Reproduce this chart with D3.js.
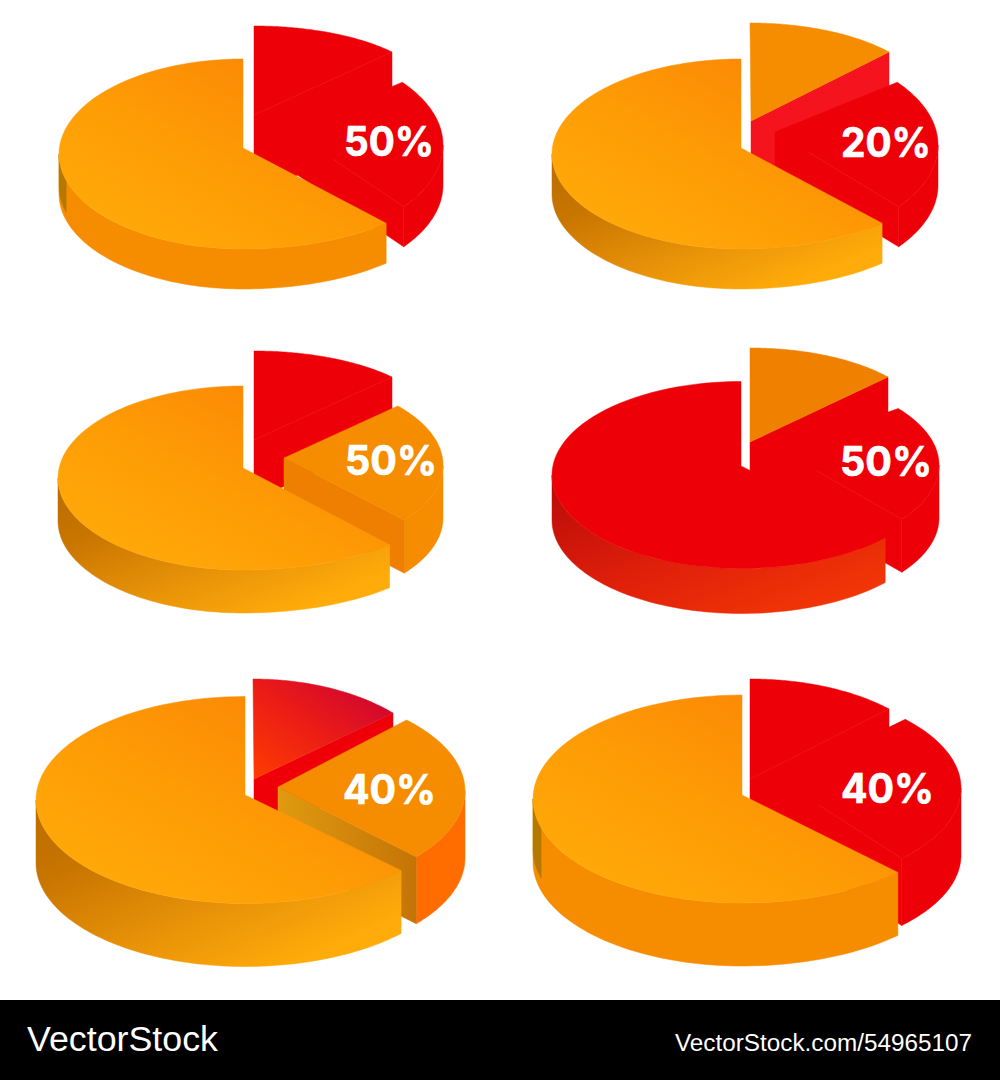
<!DOCTYPE html>
<html><head><meta charset="utf-8">
<script src="https://cdn.jsdelivr.net/npm/d3@7/dist/d3.min.js"></script>
<style>html,body{margin:0;padding:0;background:#fff}svg{display:block}</style>
</head><body><div id="c"></div>
<script>
// ---- data (shares of each pie, percent) ----
const pieLabels = ["50%","20%","50%","50%","40%","40%"];
const backShare = [14.2,14.2,13.6,14.2,12.8,13.1];
const sideShare = [21.4,21.4,21.9,21.1,23.3,24.2];
const mainShare = [64.4,64.4,64.5,64.7,63.9,62.7];
const footerLeft = "VectorStock";
const footerRight = "VectorStock.com/54965107";

// ---- layout, kept apart from the values ----
const RED="#ee0008", ORG="#f68d00";
const layout = [
 {main:{cx:243,cy:154,rxL:184,rxR:209,ry:95,d:40,ax:243,ay:148,trim:8.6,wall:ORG,strip:true},
  back:{cx:254,topY:26,tipX:392,tipY:52,ax:254,ay:115,d:80,top:RED,cut:RED},
  side:{cx:259,cy:145,rx:184,ry:100,d:40,ax:290,ay:130,top:RED,wall:RED,cut:RED},
  label:[389,141,90]},
 {main:{cx:741,cy:154,rxL:189,rxR:206,ry:95,d:40,ax:741,ay:148,trim:8.6,wall:"url(#wallO)"},
  back:{cx:750,topY:23,tipX:889,tipY:52,ax:751,ay:121,d:60,top:ORG,cut:"#f5141e"},
  side:{cx:754,cy:145,rx:184,ry:100,d:40,ax:775,ay:132,top:RED,wall:RED,cut:RED},
  label:[886,142,90]},
 {main:{cx:243,cy:478,rxL:185,rxR:213,ry:92,d:43,ax:243,ay:468,trim:8.7,wall:"url(#wallO)"},
  back:{cx:254,topY:351,tipX:392,tipY:377,ax:254,ay:440,d:60,top:RED,cut:RED},
  side:{cx:259,cy:465,rx:184,ry:90,d:53,ax:284,ay:458,top:ORG,wall:ORG,cut:"#ee7f00"},
  label:[391,460,92]},
 {main:{cx:741,cy:475,rxL:189,rxR:194,ry:93.5,d:45,ax:741,ay:466,trim:4.9,top:RED,wall:"url(#wallR)"},
  back:{cx:750,topY:348,tipX:888,tipY:377,ax:750,ay:442,d:60,top:"#ef8000",cut:RED},
  side:{cx:755,cy:465,rx:184,ry:90,d:53,ax:780,ay:450,top:RED,wall:RED,cut:RED},
  label:[886,461,92]},
 {main:{cx:245,cy:800,rxL:209,rxR:213,ry:103.5,d:63,ax:245,ay:795,trim:2.9,wall:"url(#wallO)"},
  back:{cx:253,topY:679,tipX:393,tipY:713,ax:254,ay:779,d:60,top:"url(#backG)",cut:"#ef0008"},
  side:{cx:256,cy:791,rx:209,ry:102.4,d:67,ax:278,ay:787,top:"#f68c00",wall:"#ff6d00",cut:"url(#cutG)"},
  label:[389.5,789,93]},
 {main:{cx:742,cy:799,rxL:209,rxR:220,ry:104,d:63,ax:742,ay:795,trim:.6,wall:ORG,strip:true},
  back:{cx:750,topY:679,tipX:889,tipY:709,ax:750,ay:779,d:60,top:RED,cut:RED},
  side:{cx:752,cy:788,rx:209,ry:101,d:67,ax:780,ay:780,top:RED,wall:RED,cut:RED},
  label:[887.5,788,93]}
];

const svg = d3.select("#c").append("svg").attr("width",1000).attr("height",1080).attr("viewBox","0 0 1000 1080");
const defs = svg.append("defs");
function grad(id,x1,y1,x2,y2,stops){
  const g=defs.append("linearGradient").attr("id",id).attr("x1",x1).attr("y1",y1).attr("x2",x2).attr("y2",y2);
  stops.forEach(([o,c])=>g.append("stop").attr("offset",o).attr("stop-color",c));
}
grad("topO",0,1,1,0,[[.1,"#ffaa0a"],[.45,"#fe9c05"],[.8,"#fb8a04"]]);
grad("wallO",0,0,1,1,[[0,"#b86c00"],[.25,"#c87500"],[.55,"#e69008"],[.85,"#ffab0a"]]);
grad("wallR",0,0,1,1,[[0,"#b80a0a"],[.5,"#e0200a"],[1,"#f83c05"]]);
grad("backG",0,1,1,0,[[0,"#ff3c00"],[.5,"#ea1a18"],[1,"#c60038"]]);
grad("cutG",0,0,1,0,[[0,"#e09a10"],[1,"#c47406"]]);

const pie = d3.pie().sort(null).value(d=>d);
const rad = Math.PI/180;
const line = d3.line().curve(d3.curveLinear);
const area = d3.area().x(d=>d[0]).y0(d=>d[1]).y1(d=>d[2]);
const samples = (a0,a1)=>d3.range(0,81).map(i=>a0+(a1-a0)*i/80);
const shape = (g,fill,d)=>g.append("path").attr("fill",fill).attr("stroke",fill).attr("stroke-width",.5).attr("d",d);

pieLabels.forEach((lab,i)=>{
  const L=layout[i], [pb,ps,pm]=pie([backShare[i],sideShare[i],mainShare[i]]);
  const g=svg.append("g");

  // back slice: lifted wedge behind the gap
  {
    const b=L.back, a1=pb.endAngle, rx=(b.tipX-b.cx)/Math.sin(a1), ry=(b.tipY-b.topY)/(1-Math.cos(a1)), cy=b.topY+ry;
    const pt=a=>[b.cx+rx*Math.sin(a), cy-ry*Math.cos(a)];
    const tip=pt(a1);
    shape(g,b.cut,line([[b.ax,b.ay],tip,[tip[0],tip[1]+b.d],[b.ax,b.ay+b.d]])+"Z");
    shape(g,b.top,line([[b.ax,b.ay],...samples(pb.startAngle,a1).map(pt)])+"Z");
  }
  // side slice carrying the label
  {
    const s=L.side, pt=a=>[s.cx+s.rx*Math.sin(a), s.cy-s.ry*Math.cos(a)];
    const tip=pt(ps.endAngle);
    shape(g,s.wall,area(samples(90*rad,ps.endAngle).map(a=>{const p=pt(a);return [p[0],p[1],p[1]+s.d];})));
    shape(g,s.cut,line([[s.ax,s.ay],tip,[tip[0],tip[1]+s.d],[s.ax,s.ay+s.d]])+"Z");
    shape(g,s.top,line([[s.ax,s.ay],...samples(ps.startAngle,ps.endAngle).map(pt)])+"Z");
  }
  // main slice
  {
    const m=L.main, a0=pm.startAngle+m.trim*rad, a1=pm.endAngle;
    const pt=a=>[m.cx+(a<Math.PI?m.rxR:m.rxL)*Math.sin(a), m.cy-m.ry*Math.cos(a)];
    shape(g,m.wall,area(samples(a0,270*rad).map(a=>{const p=pt(a);return [p[0],p[1],p[1]+m.d];})));
    if(m.strip) shape(g,"#b57800",area(samples(254*rad,270*rad).map(a=>{const p=pt(a);return [p[0],p[1],p[1]+m.d*.8];})));
    shape(g,m.top||"url(#topO)",line([[m.ax,m.ay],...samples(a0,a1).map(pt)])+"Z");
  }
  g.append("text").attr("x",L.label[0]).attr("y",L.label[1]+15).attr("text-anchor","middle")
    .attr("font-family","Inter, 'Open Sans', sans-serif").attr("font-weight",700).attr("font-size",41)
    .attr("fill","#fff").attr("stroke","#fff").attr("stroke-width",.7)
    .attr("textLength",L.label[2]).attr("lengthAdjust","spacingAndGlyphs").text(lab);
});

// footer band
svg.append("rect").attr("x",0).attr("y",1000).attr("width",1000).attr("height",80).attr("fill","#000");
svg.append("text").attr("x",27).attr("y",1051).attr("fill","#fff").attr("font-family","'Liberation Sans',sans-serif")
  .attr("font-size",35).attr("textLength",191).attr("lengthAdjust","spacingAndGlyphs").text(footerLeft);
svg.append("text").attr("x",675).attr("y",1051).attr("fill","#fff").attr("font-family","'Liberation Sans',sans-serif")
  .attr("font-size",23).attr("textLength",297).attr("lengthAdjust","spacingAndGlyphs").text(footerRight);
</script></body></html>
